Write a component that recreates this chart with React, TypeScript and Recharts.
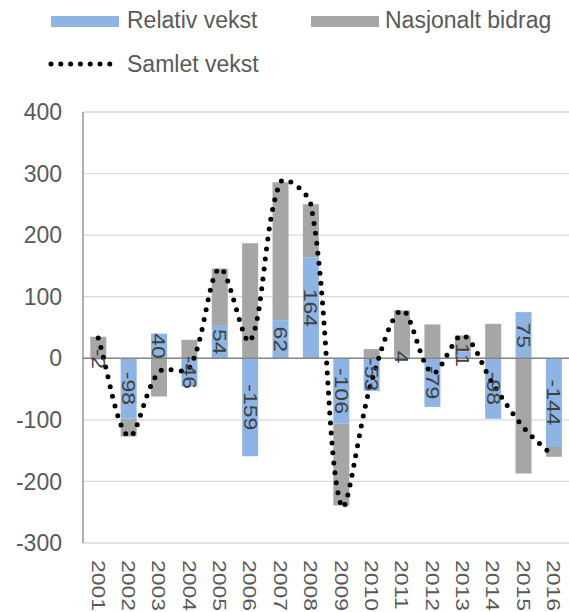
import {
  Bar,
  CartesianGrid,
  ComposedChart,
  LabelList,
  Legend,
  Line,
  ReferenceLine,
  XAxis,
  YAxis,
} from "recharts";

const years = [
  "2001", "2002", "2003", "2004", "2005", "2006", "2007", "2008",
  "2009", "2010", "2011", "2012", "2013", "2014", "2015", "2016",
];
const relativVekst = [-2, -98, 40, -46, 54, -159, 62, 164, -106, -53, 4, -79, 11, -98, 75, -144];
const nasjonaltBidrag = [35, -29, -62, 30, 92, 187, 224, 86, -133, 15, 74, 55, 26, 56, -187, -16];
const samletVekst = [33, -127, -22, -16, 146, 28, 286, 250, -239, -38, 78, -24, 37, -42, -112, -160];
const yTicks = [-300, -200, -100, 0, 100, 200, 300, 400];

const BLUE = "#8EB4E3";
const GRAY = "#A6A6A6";
const TEXT = "#595959";
const FONT = '"Liberation Sans", Arial, sans-serif';

const data = years.map((year, i) => ({
  year,
  relativ: relativVekst[i],
  nasjonalt: nasjonaltBidrag[i],
  samlet: samletVekst[i],
}));

// smoothed line like a spreadsheet: bezier, tangents weighted by chord length
function smoothCurve(context: any) {
  let pts: number[][] = [];
  const dist = (a: number[], b: number[]) => Math.hypot(b[0] - a[0], b[1] - a[1]);
  return {
    areaStart() {},
    areaEnd() {},
    lineStart() {
      pts = [];
    },
    point(x: number, y: number) {
      pts.push([+x, +y]);
    },
    lineEnd() {
      if (!pts.length) return;
      const n = pts.length;
      context.moveTo(pts[0][0], pts[0][1]);
      for (let i = 0; i < n - 1; i++) {
        const p0 = pts[Math.max(i - 1, 0)];
        const p1 = pts[i];
        const p2 = pts[i + 1];
        const p3 = pts[Math.min(i + 2, n - 1)];
        const d01 = dist(p0, p1);
        const d12 = dist(p1, p2);
        const d23 = dist(p2, p3);
        const k1 = d01 + d12 ? d12 / (d01 + d12) / 3 : 0;
        const k2 = d12 + d23 ? d12 / (d12 + d23) / 3 : 0;
        context.bezierCurveTo(
          p1[0] + (p2[0] - p0[0]) * k1,
          p1[1] + (p2[1] - p0[1]) * k1,
          p2[0] - (p3[0] - p1[0]) * k2,
          p2[1] - (p3[1] - p1[1]) * k2,
          p2[0],
          p2[1]
        );
      }
    },
  };
}

function YearTick({ x, y, payload }: any) {
  return (
    <g transform={`translate(${x},${y})`}>
      <text
        transform="rotate(90) scale(1,0.8)"
        x={9}
        y={0}
        textAnchor="start"
        dominantBaseline="central"
        fill={TEXT}
        fontSize={23}
        fontFamily={FONT}
      >
        {payload.value}
      </text>
    </g>
  );
}

function BarValue({ x, y, width, height, value }: any) {
  const cx = x + width / 2;
  const cy = y + height / 2;
  return (
    <g transform={`translate(${cx},${cy})`}>
      <text
        transform="rotate(90) scale(1,0.8)"
        x={0}
        y={0}
        textAnchor="middle"
        dominantBaseline="central"
        fill="#404040"
        fontSize={23}
        fontFamily={FONT}
      >
        {value}
      </text>
    </g>
  );
}

function ChartLegend() {
  const label = {
    position: "absolute" as const,
    fontSize: 23,
    color: TEXT,
    fontFamily: FONT,
    lineHeight: "23px",
    whiteSpace: "nowrap" as const,
  };
  return (
    <div style={{ position: "relative", width: 569, height: 90 }}>
      <div style={{ position: "absolute", left: 51, top: 16, width: 68, height: 11, background: BLUE }} />
      <span style={{ ...label, left: 127, top: 9 }}>Relativ vekst</span>
      <div style={{ position: "absolute", left: 311, top: 16, width: 68, height: 11, background: GRAY }} />
      <span style={{ ...label, left: 385, top: 9 }}>Nasjonalt bidrag</span>
      <svg style={{ position: "absolute", left: 44, top: 56 }} width={76} height={16}>
        <line x1={7} y1={8} x2={66} y2={8} stroke="#000" strokeWidth={5} strokeLinecap="round" strokeDasharray="0 9.8" />
      </svg>
      <span style={{ ...label, left: 127, top: 53 }}>Samlet vekst</span>
    </div>
  );
}

export default function App() {
  return (
    <div style={{ position: "absolute", left: 0, top: 0 }}>
      <ComposedChart
        width={569}
        height={612}
        data={data}
        stackOffset="sign"
        barCategoryGap="24%"
        margin={{ top: 22, right: 0, bottom: 0, left: 0 }}
      >
        <Legend
          verticalAlign="top"
          wrapperStyle={{ top: 0, left: 0 }}
          content={() => <ChartLegend />}
        />
        <CartesianGrid vertical={false} stroke="#D9D9D9" strokeWidth={1.3} />
        <XAxis
          dataKey="year"
          axisLine={false}
          tickLine={false}
          height={69}
          interval={0}
          tick={<YearTick />}
        />
        <YAxis
          width={83}
          domain={[-300, 400]}
          ticks={yTicks}
          interval={0}
          tickLine={false}
          tickMargin={15}
          axisLine={{ stroke: "#868686", strokeWidth: 1.3 }}
          tick={{ fill: TEXT, fontSize: 23, fontFamily: FONT }}
        />
        <Bar dataKey="relativ" stackId="a" fill={BLUE} isAnimationActive={false}>
          <LabelList dataKey="relativ" content={<BarValue />} />
        </Bar>
        <Bar dataKey="nasjonalt" stackId="a" fill={GRAY} isAnimationActive={false} />
        <ReferenceLine y={0} stroke="#868686" strokeWidth={1.5} />
        <Line
          dataKey="samlet"
          type={smoothCurve as any}
          stroke="#000"
          strokeWidth={5}
          strokeLinecap="round"
          strokeDasharray="0 10"
          dot={false}
          activeDot={false}
          isAnimationActive={false}
        />
      </ComposedChart>
    </div>
  );
}
